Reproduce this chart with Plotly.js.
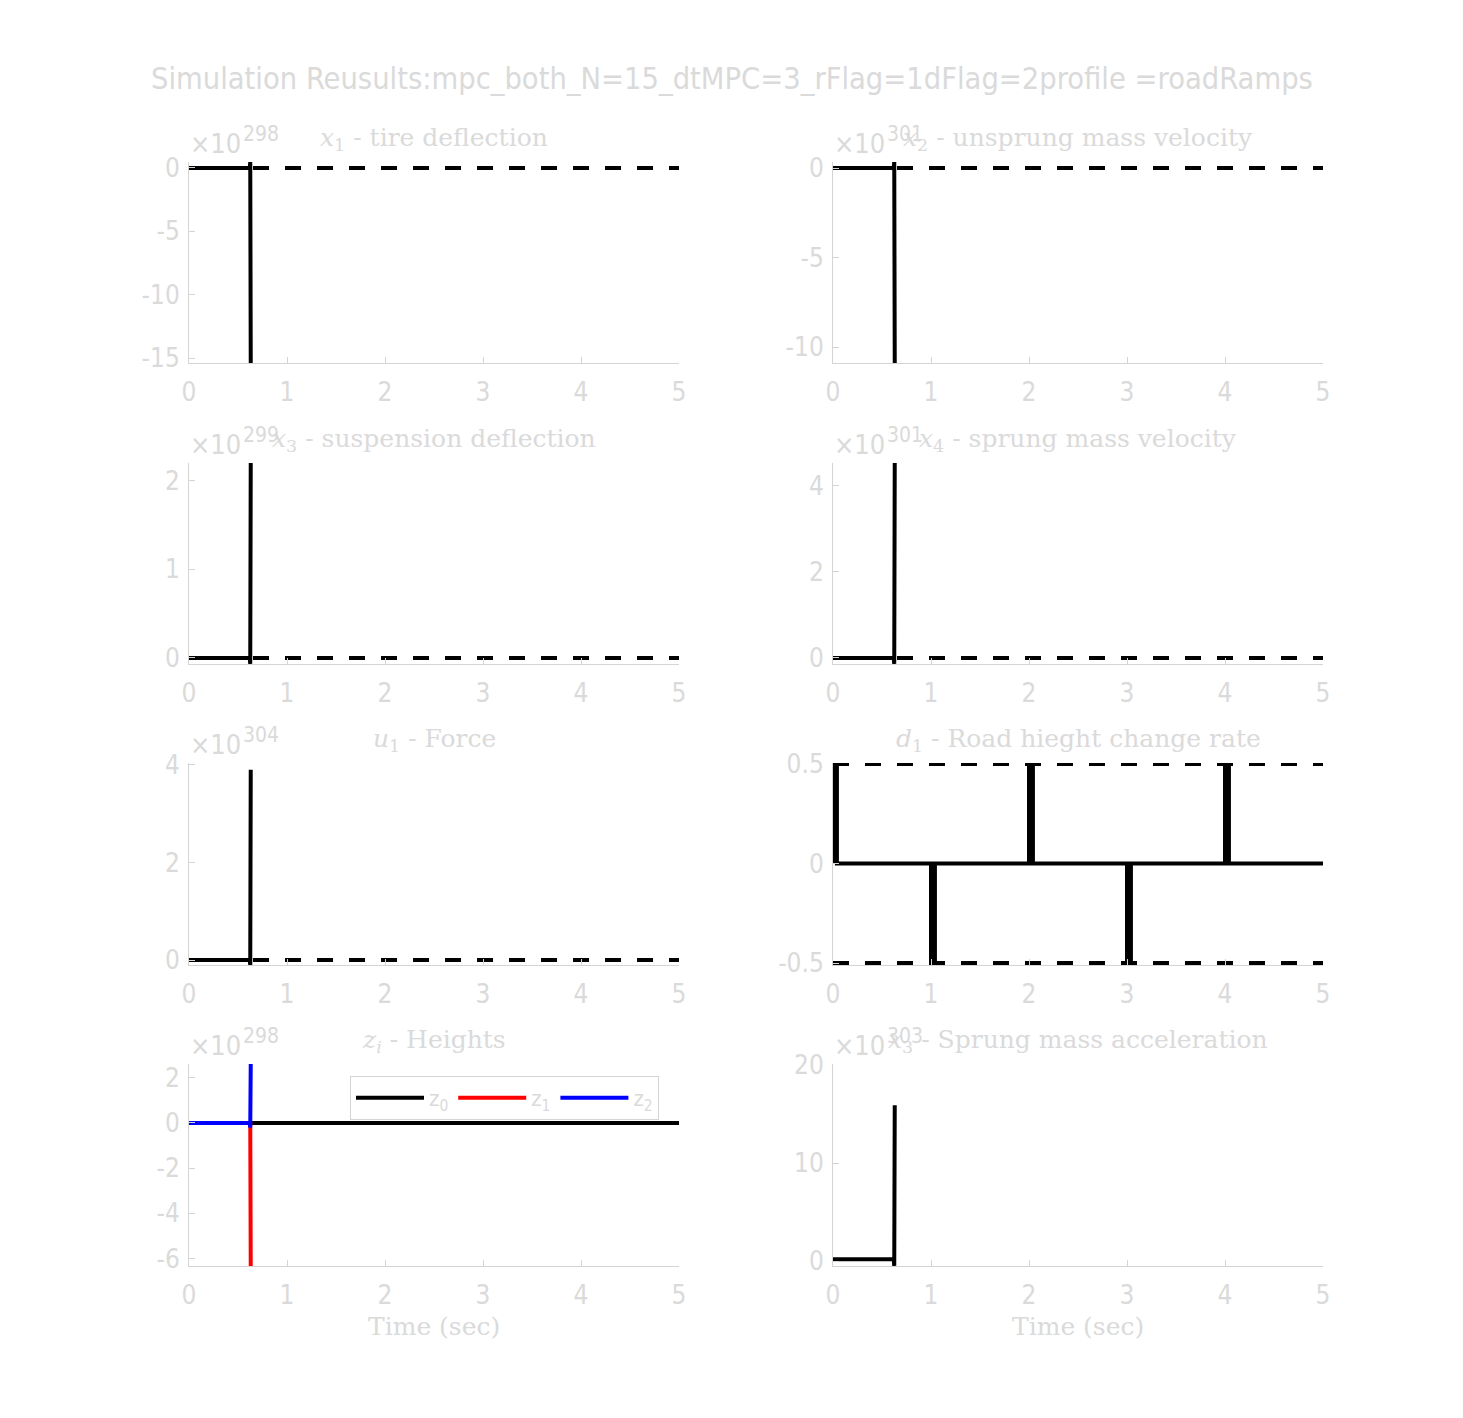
<!DOCTYPE html>
<html>
<head>
<meta charset="utf-8">
<script src="https://cdn.plot.ly/plotly-3.0.1.min.js"></script>
<style>html,body{margin:0;padding:0;background:#fff;}#chart{width:1463px;height:1418px;}</style>
</head>
<body>
<div id="chart"></div>
<script>
// ---------------- DATA (values in units of the axis exponent) ----------------
const supTitle = "Simulation Reusults:mpc_both_N=15_dtMPC=3_rFlag=1dFlag=2profile =roadRamps";
const panelTitles = [
  "<i>x</i><sub>1</sub> - tire deflection",
  "<i>x</i><sub>2</sub> - unsprung mass velocity",
  "<i>x</i><sub>3</sub> - suspension deflection",
  "<i>x</i><sub>4</sub> - sprung mass velocity",
  "<i>u</i><sub>1</sub> - Force",
  "<i>d</i><sub>1</sub> - Road hieght change rate",
  "<i>z<sub>i</sub></i> - Heights",
  "<i>x</i><sub>3</sub> - Sprung mass acceleration"
];
const exponents = [298, 301, 299, 301, 304, null, 298, 303];

// time samples of the state/input traces (run diverges at t ~ 0.62 s)
const tRun = [0, 0.62, 0.625, 0.63];
const x1 = [0, 0, 0.47, -15.39];
const x2 = [0, 0, 0.335, -10.89];
const x3 = [0, 0, -0.068, 2.2];
const x4 = [0, 0, -0.14, 4.53];
const u1 = [0, 0, -0.1, 3.9];
const z1 = [0, 0, 0.05, -6.33];
const z2 = [0, 0, -0.2, 2.61];
const acc = [0.2, 0.2, -0.5, 15.9];

// road profile (z0) and its rate of change (d1)
const tRoad = [0, 5];
const z0 = [0, 0];
const tD = [0, 0, 0.04, 0.04, 1.0, 1.0, 1.04, 1.04, 2.0, 2.0, 2.04, 2.04, 3.0, 3.0, 3.04, 3.04, 4.0, 4.0, 4.04, 4.04, 5];
const d1 = [0, 0.5, 0.5, 0, 0, -0.5, -0.5, 0, 0, 0.5, 0.5, 0, 0, -0.5, -0.5, 0, 0, 0.5, 0.5, 0, 0];

// constraint bounds (dashed)
const tBound = [0, 5];
const boundZero = [0, 0];
const d1Upper = [0.5, 0.5];
const d1Lower = [-0.5, -0.5];

// axis ranges and ticks
const xTicks = [0, 1, 2, 3, 4, 5];
const yRanges = [[-15.39, 0.47], [-10.89, 0.335], [-0.068, 2.2], [-0.14, 4.53], [-0.1, 4.04], [-0.51, 0.505], [-6.33, 2.61], [-0.5, 20.1]];
const yTicks = [[-15, -10, -5, 0], [-10, -5, 0], [0, 1, 2], [0, 2, 4], [0, 2, 4], [-0.5, 0, 0.5], [-6, -4, -2, 0, 2], [0, 10, 20]];
const legendNames = ["z<sub>0</sub>", "z<sub>1</sub>", "z<sub>2</sub>"];

// ---------------- LAYOUT ----------------
const W = 1463, H = 1418;
const colPx = [[189, 679], [833, 1323]];
const rowPx = [[162, 363], [463, 664], [763, 965], [1064, 1266]];
const txt = "#dadada", axc = "#d4d4d4";
const sans = "DejaVu Sans Condensed, DejaVu Sans, sans-serif";
const serif = "DejaVu Serif, serif";

const traces = [];
const layout = {
  width: W, height: H, autosize: false,
  margin: {l: 0, r: 0, t: 0, b: 0},
  paper_bgcolor: "#fff", plot_bgcolor: "#fff",
  showlegend: true,
  legend: {
    orientation: "h", x: 350 / W, y: 1 - 1076 / H, xanchor: "left", yanchor: "top",
    bordercolor: "#d4d4d4", borderwidth: 1, bgcolor: "rgba(255,255,255,0)",
    font: {family: sans, size: 22, color: txt}, itemwidth: 68, tracegroupgap: 0
  },
  annotations: [], shapes: []
};

function ax(i) { return i === 0 ? "" : String(i + 1); }

for (let k = 0; k < 8; k++) {
  const col = k % 2, row = Math.floor(k / 2);
  const s = ax(k);
  layout["xaxis" + s] = {
    domain: [colPx[col][0] / W, colPx[col][1] / W], anchor: "y" + s,
    range: [0, 5], tickvals: xTicks, ticktext: xTicks.map(String),
    showline: true, linecolor: axc, linewidth: 1, mirror: false,
    ticks: "inside", ticklen: 6, tickcolor: axc, showgrid: false, zeroline: false,
    tickfont: {family: sans, size: 26, color: txt}, ticklabelstandoff: 6,
    fixedrange: true
  };
  layout["yaxis" + s] = {
    domain: [1 - rowPx[row][1] / H, 1 - rowPx[row][0] / H], anchor: "x" + s,
    range: yRanges[k], tickvals: yTicks[k], ticktext: yTicks[k].map(String),
    showline: true, linecolor: axc, linewidth: 1, mirror: false,
    ticks: "inside", ticklen: 6, tickcolor: axc, showgrid: false, zeroline: false,
    tickfont: {family: sans, size: 26, color: txt}, ticklabelstandoff: 3,
    fixedrange: true
  };
  // panel title
  layout.annotations.push({
    text: panelTitles[k], xref: "paper", yref: "paper",
    x: (colPx[col][0] + colPx[col][1]) / 2 / W, y: 1 - (rowPx[row][0] - 23) / H,
    xanchor: "center", yanchor: "middle", showarrow: false,
    font: {family: serif, size: 25, color: txt}
  });
  // exponent label: "x10" plus raised exponent
  if (exponents[k] !== null) {
    layout.annotations.push({
      text: "\u00d710", xref: "paper", yref: "paper",
      x: (colPx[col][0] - 1) / W, y: 1 - (rowPx[row][0] - 1) / H,
      xanchor: "left", yanchor: "bottom", showarrow: false,
      font: {family: sans, size: 27, color: txt}
    });
    layout.annotations.push({
      text: String(exponents[k]), xref: "paper", yref: "paper",
      x: (colPx[col][0] + 52) / W, y: 1 - (rowPx[row][0] - 14) / H,
      xanchor: "left", yanchor: "bottom", showarrow: false,
      font: {family: sans, size: 21, color: txt}
    });
  }
}
// x-axis titles on bottom row
for (let col = 0; col < 2; col++) {
  layout.annotations.push({
    text: "Time (sec)", xref: "paper", yref: "paper",
    x: (colPx[col][0] + colPx[col][1]) / 2 / W, y: 1 - 1326 / H,
    xanchor: "center", yanchor: "middle", showarrow: false,
    font: {family: serif, size: 25, color: txt}
  });
}
// super title
layout.annotations.push({
  text: supTitle, xref: "paper", yref: "paper",
  x: 732 / W, y: 1 - 78 / H, xanchor: "center", yanchor: "middle", showarrow: false,
  font: {family: sans, size: 30.5, color: txt}
});

const solid = {color: "#000", width: 4};
const dashed = {color: "#000", width: 4, dash: "16px,16px"};
function line(x, y, k, ln, extra) {
  const s = ax(k);
  traces.push(Object.assign({type: "scatter", mode: "lines", x: x, y: y, xaxis: "x" + s, yaxis: "y" + s,
    line: ln, showlegend: false, hoverinfo: "skip"}, extra || {}));
}
// panel 1-5: states / input with zero-width bounds
const runSeries = [x1, x2, x3, x4, u1];
runSeries.forEach((v, k) => {
  line(tRun, v, k, solid);
  line(tBound, boundZero, k, dashed);
});
// panel 6: d1 with bounds
line(tD, d1, 5, {color: "#000", width: 4});
line(tBound, d1Upper, 5, dashed);
line(tBound, d1Lower, 5, dashed);
// panel 7: heights
line(tRoad, z0, 6, {color: "#000", width: 4}, {showlegend: true, name: legendNames[0]});
line(tRun, z1, 6, {color: "#ff0000", width: 4}, {showlegend: true, name: legendNames[1]});
line(tRun, z2, 6, {color: "#0000ff", width: 4}, {showlegend: true, name: legendNames[2]});
// panel 8: acceleration
line(tRun, acc, 7, solid);

Plotly.newPlot("chart", traces, layout, {displayModeBar: false, staticPlot: true});
</script>
</body>
</html>
